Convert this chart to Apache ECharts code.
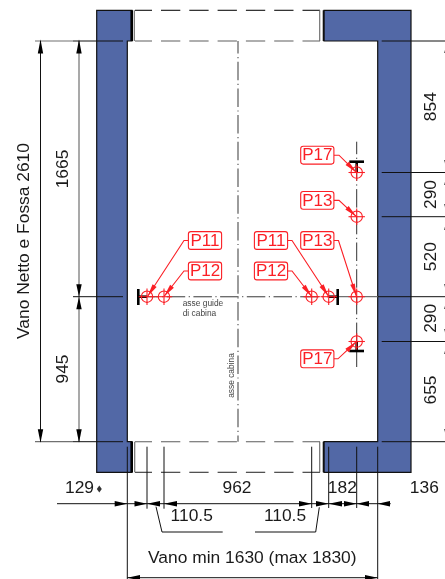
<!DOCTYPE html>
<html><head><meta charset="utf-8">
<style>html,body{margin:0;padding:0;background:#fff}#c{width:445px;height:579px}</style>
<script src="https://cdn.jsdelivr.net/npm/echarts@6/dist/echarts.min.js"></script>
</head><body><div id="c"></div>
<script>
// Drawing geometry, in drawing units on the hidden axes
const leftWall = [[96.7,10.3],[132,10.3],[132,41],[127.3,41],[127.3,441.7],[132,441.7],[132,472.3],[96.7,472.3]];
const rightWall = [[324,10.3],[411,10.3],[411,472.3],[324,472.3],[324,441.7],[377.7,441.7],[377.7,41],[324,41]];
const blackLines = [
  [73,41,123,41],[73,296.7,123,296.7],[73,441.7,123,441.7],
  [40.5,41,40.5,441.7],
  [381.7,172.5,445,172.5],[381.7,216.7,445,216.7],[377.7,296.7,445,296.7],[381.7,341.5,445,341.5],
  [381.7,41,445,41],[381.7,441.7,445,441.7],
  [57,503.7,390.7,503.7],[127.3,577.7,377.7,577.7],
  [127.3,446.7,127.3,579],[377.7,446.7,377.7,579],
  [147,446.7,147,508.7],[164,446.7,164,508.7],[311.7,446.7,311.7,508],[328.7,446.7,328.7,508],[356.7,446.7,356.7,508],
  [156,506.7,162,532],[162,532,222.7,532],[319.3,507.3,315.7,532],[315.7,532,255,532]
];
const grayLines = [
  [35,41,73,41],[35,441.7,73,441.7],[79,41,79,441.7],
  [134.3,10.3,134.3,41],[134.7,441.7,134.7,472.3],[319.7,10.3,319.7,41],[319.7,441.7,319.7,472.3],
  [137,296.7,150,296.7],[338,296.7,378,296.7]
];
const thickLines = [
  [131.7,10.3,131.7,41],[131.7,441.7,131.7,472.3],
  [138.3,289,138.3,305],[138,296.7,147,296.7],
  [337.7,289,337.7,305],[329,296.7,338,296.7],
  [349.3,161.7,364,161.7],[356.7,162,356.7,172],
  [349.3,351,364,351],[356.7,341.5,356.7,351]
];
const wallEdges = [[323.5,10.3,323.5,41],[323.5,441.7,323.5,472.3]];
const dashTop = [135,10.3,320,10.3];
const dashUpper = [135,41,320,41];
const dashMiddle = [135,441.7,320,441.7];
const dashLower = [135,472.3,320,472.3];
const centreVertical = [238,41,238,441.7];
const centreHorizontal = [150,296.7,338,296.7];
const guideVertical = [356.7,141.7,356.7,367];
const dimArrows = [
  [40.5,39.5,40.5,53.5],[79,39.5,79,53.5],[79,296.7,79,284.3],[79,296.7,79,309.3],
  [40.5,442.7,40.5,429.3],[79,442.7,79,429.3],
  [447,41,447,53],[447,172.5,447,160],[447,172.5,447,185],[447,216.7,447,204],[447,216.7,447,230],
  [447,296.7,447,284],[447,296.7,447,309],[447,341.5,447,329],[447,341.5,447,354],[447,441.7,447,429],
  [127.3,503.7,114.7,503.7],[147,503.7,134.5,503.7],[147,503.7,160,503.7],[164,503.7,177,503.7],
  [311.7,503.7,299,503.7],[328.7,503.7,316,503.7],[328.7,503.7,342,503.7],
  [356.7,503.7,344,503.7],[356.7,503.7,369,503.7],[377.7,503.7,390,503.7],
  [127.3,577.7,140,577.7],[377.7,577.7,365,577.7]
];
const rings = [[147,296.7],[164,296.7],[311.7,296.7],[328.7,296.7],[356.7,296.7],[356.7,172.5],[356.7,216.7],[356.7,341.5]];
const calloutNames = ['P11','P12','P11','P13','P12','P17','P13','P17'];
const calloutCentres = [[205,240.5],[205,271],[271,240.5],[317.3,240.5],[271,271],[317.3,155.2],[317.3,200.4],[317.3,358.8]];
const leaderPaths = [
  [[188.3,240.5],[184,240.5],[147.5,296.5]],
  [[188.3,271],[184,271],[164,296.5]],
  [[287.7,240.5],[292,240.5],[328.7,296.5]],
  [[334,240.5],[338.5,240.5],[356.5,296.5]],
  [[287.7,271],[292,271],[311.7,296.5]],
  [[334,155.2],[339,155.2],[356.5,172.5]],
  [[334,200.4],[339,200.4],[356.5,216.7]],
  [[334,358.8],[338,358.8],[356.5,341.5]]
];
const dimTexts = [
  ['129',79.5,488.3,0],['962',237,488.3,0],['182',342.3,488.3,0],['136',424.3,488.3,0],
  ['110.5',191.7,516.7,0],['110.5',285,516.7,0],
  ['Vano min 1630 (max 1830)',252.3,558,0],
  ['Vano Netto e Fossa 2610',24,241,90],
  ['1665',63,169,90],['945',63,369,90],
  ['854',431,106.7,90],['290',431,194.5,90],['520',431,256.7,90],['290',431,318.3,90],['655',431,390,90]
];
const noteTexts = [
  ['asse guide',182.7,303.3,0],['di cabina',182.7,313.3,0],['asse cabina',231.3,375.5,90]
];
const diamondMark = [[99.3,489]];

const RED = '#fb1f25', INK = '#1a1a1a', FONT = '"Liberation Sans",Arial,sans-serif';

function segments(name, segs, stroke, width, z) {
  return {
    type: 'custom', name, z: z || 3, clip: false, silent: true,
    coordinateSystem: 'cartesian2d', data: segs,
    renderItem(p, api) {
      const a = api.coord([api.value(0), api.value(1)]), b = api.coord([api.value(2), api.value(3)]);
      return { type: 'line', shape: { x1: a[0], y1: a[1], x2: b[0], y2: b[1] },
        style: { stroke, lineWidth: width, fill: null } };
    }
  };
}
// Breaks one line into visible pieces: pattern is on/off lengths, offset is how far into it the line starts.
function dashed(name, seg, stroke, width, pattern, offset) {
  return {
    type: 'custom', name, z: 2, clip: false, silent: true,
    coordinateSystem: 'cartesian2d', data: [seg],
    renderItem(p, api) {
      const a = api.coord([api.value(0), api.value(1)]), b = api.coord([api.value(2), api.value(3)]);
      const len = Math.hypot(b[0] - a[0], b[1] - a[1]), ux = (b[0] - a[0]) / len, uy = (b[1] - a[1]) / len;
      const children = [];
      let pos = -offset, i = 0;
      while (pos < len) {
        const run = pattern[i % pattern.length], s = Math.max(pos, 0), e = Math.min(pos + run, len);
        if (i % 2 === 0 && e > s) {
          children.push({ type: 'line', shape: { x1: a[0] + ux * s, y1: a[1] + uy * s, x2: a[0] + ux * e, y2: a[1] + uy * e },
            style: { stroke, lineWidth: width, fill: null } });
        }
        pos += run; i++;
      }
      return { type: 'group', children };
    }
  };
}
function polygonSeries(points, name) {
  return {
    type: 'custom', name, z: 1, clip: false, silent: true,
    coordinateSystem: 'cartesian2d', data: [0],
    renderItem(p, api) {
      return { type: 'polygon', shape: { points: points.map(q => api.coord(q)) },
        style: { fill: '#5268a6', stroke: '#111', lineWidth: 1.2 } };
    }
  };
}
const arrowSeries = {
  type: 'custom', name: 'arrows', z: 5, clip: false, silent: true,
  coordinateSystem: 'cartesian2d', data: dimArrows,
  renderItem(p, api) {
    const t = api.coord([api.value(0), api.value(1)]), b = api.coord([api.value(2), api.value(3)]);
    const dx = b[0] - t[0], dy = b[1] - t[1], l = Math.hypot(dx, dy) || 1, nx = -dy / l * 2.7, ny = dx / l * 2.7;
    return { type: 'polygon', shape: { points: [t, [b[0] + nx, b[1] + ny], [b[0] - nx, b[1] - ny]] }, style: { fill: '#000' } };
  }
};
const ringSeries = {
  type: 'custom', name: 'rings', z: 6, clip: false, silent: true,
  coordinateSystem: 'cartesian2d', data: rings,
  renderItem(p, api) {
    const c = api.coord([api.value(0), api.value(1)]);
    const st = { stroke: RED, lineWidth: 1.1, fill: null };
    return { type: 'group', children: [
      { type: 'circle', shape: { cx: c[0], cy: c[1], r: 5.7 }, style: st },
      { type: 'line', shape: { x1: c[0] - 8.2, y1: c[1], x2: c[0] + 8.2, y2: c[1] }, style: st },
      { type: 'line', shape: { x1: c[0], y1: c[1] - 8.2, x2: c[0], y2: c[1] + 8.2 }, style: st }
    ] };
  }
};
const leaderSeries = {
  type: 'custom', name: 'leaders', z: 7, clip: false, silent: true,
  coordinateSystem: 'cartesian2d', data: leaderPaths.map((_, i) => [i]),
  renderItem(p, api) {
    const pts = leaderPaths[api.value(0)].map(q => api.coord(q));
    const t = pts[pts.length - 1], f = pts[pts.length - 2];
    const dx = f[0] - t[0], dy = f[1] - t[1], l = Math.hypot(dx, dy), ux = dx / l, uy = dy / l;
    const bx = t[0] + ux * 13, by = t[1] + uy * 13;
    return { type: 'group', children: [
      { type: 'polyline', shape: { points: pts }, style: { stroke: RED, lineWidth: 1.1, fill: null } },
      { type: 'polygon', shape: { points: [t, [bx - uy * 2.4, by + ux * 2.4], [bx + uy * 2.4, by - ux * 2.4]] }, style: { fill: RED } }
    ] };
  }
};
const calloutSeries = {
  type: 'custom', name: 'callouts', z: 8, clip: false, silent: true,
  coordinateSystem: 'cartesian2d', data: calloutCentres.map((c, i) => [c[0], c[1], i]),
  renderItem(p, api) {
    const c = api.coord([api.value(0), api.value(1)]);
    return { type: 'group', children: [
      { type: 'rect', shape: { x: c[0] - 16.6, y: c[1] - 8.9, width: 33.2, height: 17.8, r: 2.5 },
        style: { stroke: RED, lineWidth: 1.1, fill: '#fff' } },
      { type: 'text', x: c[0], y: c[1] + 0.5,
        style: { text: calloutNames[api.value(2)], fill: RED, font: '17px ' + FONT, align: 'center', verticalAlign: 'middle' } }
    ] };
  }
};
function textSeries(name, items, size, fill, align) {
  return {
    type: 'custom', name, z: 9, clip: false, silent: true,
    coordinateSystem: 'cartesian2d', data: items.map((t, i) => [t[1], t[2], t[3], i]),
    renderItem(p, api) {
      const c = api.coord([api.value(0), api.value(1)]), rot = api.value(2);
      return { type: 'text', x: c[0], y: c[1], rotation: rot * Math.PI / 180,
        style: { text: items[api.value(3)][0], fill, font: size + 'px ' + FONT,
          align: rot ? 'center' : align, verticalAlign: 'middle' } };
    }
  };
}
const BUILDING = [19.3, 9], AXIS = [18.5, 3.5, 1.2, 3.5];
const chart = echarts.init(document.getElementById('c'), null, { renderer: 'canvas' });
chart.setOption({
  animation: false, backgroundColor: '#fff', tooltip: { show: false },
  grid: { left: 0, right: 0, top: 0, bottom: 0 },
  xAxis: { type: 'value', min: 0, max: 445, show: false },
  yAxis: { type: 'value', min: 0, max: 579, inverse: true, show: false },
  series: [
    polygonSeries(leftWall, 'left wall'), polygonSeries(rightWall, 'right wall'),
    dashed('dash top', dashTop, '#111', 1.1, BUILDING, 2.3),
    dashed('dash upper', dashUpper, '#777', 1.2, BUILDING, 2.3),
    dashed('dash middle', dashMiddle, '#777', 1.2, BUILDING, 2.3),
    dashed('dash lower', dashLower, '#333', 1.1, BUILDING, 2.3),
    dashed('centre vertical', centreVertical, '#666', 1.3, AXIS, 6),
    dashed('centre horizontal', centreHorizontal, '#666', 1.3, AXIS, 10),
    dashed('guide vertical', guideVertical, '#333', 1, AXIS, 6),
    segments('gray', grayLines, '#707070', 1.2),
    segments('black', blackLines, '#111', 1),
    segments('wall edges', wallEdges, '#111', 1.6),
    segments('thick', thickLines, '#000', 2.6, 6),
    arrowSeries, ringSeries, leaderSeries, calloutSeries,
    textSeries('dimensions', dimTexts, 17.4, INK, 'center'),
    textSeries('notes', noteTexts, 8.4, '#444', 'left'),
    { type: 'scatter', name: 'diamond', data: diamondMark, symbol: 'diamond', symbolSize: [5, 7], z: 9, silent: true,
      itemStyle: { color: '#000' } }
  ]
});
</script></body></html>
